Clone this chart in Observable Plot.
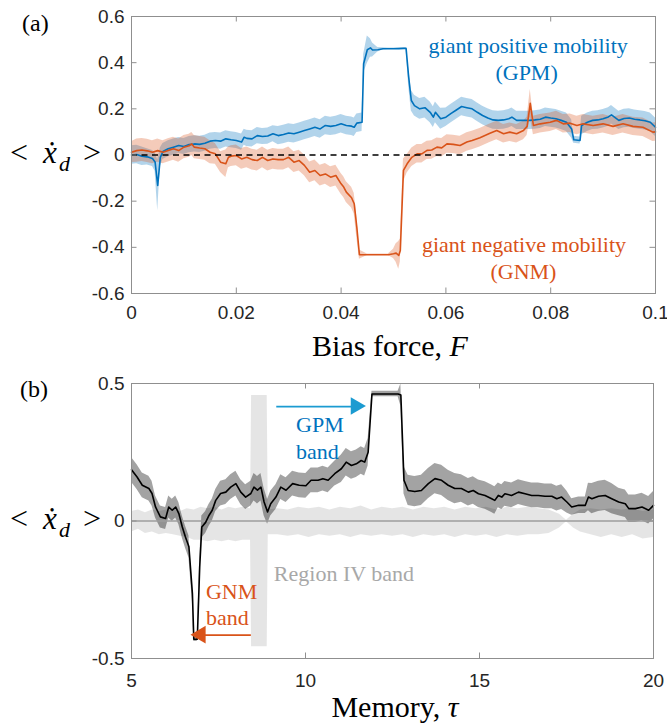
<!DOCTYPE html>
<html><head><meta charset="utf-8">
<script src="https://cdn.jsdelivr.net/npm/d3@7"></script>
<script src="https://cdn.jsdelivr.net/npm/@observablehq/plot@0.6"></script>
<style>
body{margin:0;background:#fff;} svg{display:block;}
</style>
</head><body><div id="a"></div><div id="b"></div>
<script>
// ---------- data ----------
const aXTicks = [0, 0.02, 0.04, 0.06, 0.08, 0.1];
const aYTicks = [-0.6, -0.4, -0.2, 0, 0.2, 0.4, 0.6];
const bXTicks = [5, 10, 15, 20];
const bYTicks = [-0.5, 0, 0.5];

// panel (a) blue: giant positive mobility curve
const gpmF = [0,0.001,0.002,0.003,0.004,0.0045,0.005,0.0055,0.006,0.007,0.008,0.009,0.010,0.011,0.012,0.013,0.014,0.015,0.016,0.017,0.018,0.019,0.020,0.021,0.0215,0.022,0.023,0.024,0.025,0.026,0.027,0.028,0.029,0.030,0.031,0.032,0.033,0.034,0.035,0.036,0.037,0.038,0.039,0.040,0.041,0.042,0.0425,0.043,0.044,0.0443,0.045,0.0456,0.046,0.047,0.048,0.049,0.050,0.051,0.052,0.0524,0.0529,0.0534,0.054,0.055,0.056,0.057,0.0576,0.058,0.059,0.060,0.061,0.062,0.063,0.064,0.065,0.066,0.067,0.068,0.069,0.070,0.071,0.072,0.0726,0.0735,0.075,0.076,0.077,0.078,0.079,0.080,0.081,0.082,0.083,0.084,0.0844,0.0856,0.0859,0.087,0.088,0.089,0.090,0.091,0.0916,0.093,0.094,0.095,0.096,0.097,0.098,0.099,0.100];
const gpmMean = [0,0.002,-0.005,-0.008,-0.015,-0.03,-0.132,-0.01,0.015,0.027,0.034,0.041,0.037,0.045,0.048,0.046,0.051,0.06,0.063,0.06,0.07,0.066,0.063,0.056,0.077,0.072,0.07,0.084,0.08,0.082,0.092,0.084,0.089,0.095,0.092,0.099,0.106,0.113,0.12,0.113,0.128,0.124,0.128,0.135,0.128,0.125,0.12,0.138,0.142,0.395,0.456,0.464,0.455,0.456,0.46,0.46,0.46,0.461,0.462,0.462,0.337,0.236,0.214,0.2,0.205,0.185,0.164,0.185,0.157,0.164,0.18,0.195,0.21,0.205,0.2,0.185,0.171,0.16,0.152,0.15,0.152,0.157,0.164,0.15,0.15,0.15,0.152,0.155,0.164,0.16,0.157,0.15,0.142,0.113,0.066,0.063,0.128,0.142,0.15,0.152,0.157,0.165,0.174,0.15,0.158,0.16,0.155,0.152,0.148,0.142,0.12];
const gpmErr = [0.04,0.04,0.04,0.035,0.035,0.04,0.11,0.04,0.035,0.035,0.035,0.035,0.035,0.035,0.035,0.035,0.035,0.035,0.035,0.035,0.035,0.035,0.035,0.035,0.035,0.035,0.035,0.035,0.035,0.035,0.035,0.04,0.04,0.04,0.04,0.04,0.04,0.04,0.04,0.04,0.04,0.04,0.04,0.04,0.04,0.04,0.04,0.04,0.04,0.04,0.06,0.04,0.03,0.01,0.005,0.003,0.003,0.003,0.003,0.003,0.04,0.045,0.045,0.045,0.045,0.045,0.045,0.045,0.045,0.04,0.04,0.04,0.04,0.04,0.04,0.04,0.04,0.04,0.04,0.04,0.04,0.04,0.04,0.04,0.04,0.04,0.04,0.04,0.04,0.04,0.04,0.04,0.04,0.04,0.015,0.015,0.04,0.04,0.04,0.04,0.04,0.04,0.04,0.04,0.04,0.04,0.04,0.04,0.04,0.04,0.04];

// panel (a) orange: giant negative mobility curve
const gnmF = [0,0.001,0.002,0.003,0.004,0.005,0.006,0.007,0.008,0.009,0.010,0.011,0.0115,0.012,0.013,0.014,0.015,0.016,0.017,0.018,0.0185,0.019,0.020,0.021,0.022,0.023,0.024,0.025,0.026,0.027,0.028,0.029,0.030,0.031,0.032,0.033,0.034,0.035,0.036,0.037,0.038,0.039,0.040,0.0405,0.041,0.042,0.0425,0.043,0.0435,0.045,0.047,0.049,0.050,0.0505,0.051,0.0513,0.0519,0.0526,0.0535,0.0545,0.0554,0.0564,0.0573,0.0583,0.0592,0.0602,0.0614,0.0627,0.064,0.065,0.0665,0.0684,0.0697,0.071,0.0722,0.0735,0.0748,0.0755,0.0761,0.0767,0.078,0.0799,0.0811,0.0824,0.0837,0.085,0.0862,0.0881,0.090,0.0919,0.0938,0.0957,0.0976,0.0995,0.100];
const gnmMean = [0.012,0.019,0.022,0.018,0.012,0.019,0.012,0.02,0.027,0.019,0.034,0.04,0.048,0.034,0.03,0.027,0.012,0.005,-0.031,-0.038,-0.01,-0.005,-0.002,-0.017,-0.01,-0.02,-0.024,-0.01,-0.024,-0.017,-0.02,-0.02,-0.01,-0.031,-0.024,-0.045,-0.075,-0.067,-0.089,-0.082,-0.096,-0.089,-0.125,-0.139,-0.161,-0.185,-0.211,-0.313,-0.432,-0.432,-0.432,-0.432,-0.428,-0.425,-0.435,-0.414,-0.067,-0.038,-0.01,0.005,0.005,0.02,0.022,0.034,0.031,0.048,0.046,0.041,0.056,0.063,0.075,0.094,0.106,0.092,0.099,0.092,0.106,0.124,0.224,0.128,0.135,0.142,0.15,0.135,0.138,0.128,0.135,0.128,0.135,0.124,0.135,0.124,0.12,0.099,0.1];
const gnmErr = [0.045,0.05,0.05,0.05,0.05,0.05,0.05,0.05,0.05,0.05,0.05,0.05,0.05,0.05,0.05,0.05,0.05,0.045,0.045,0.06,0.045,0.045,0.045,0.045,0.045,0.045,0.045,0.045,0.045,0.045,0.045,0.045,0.045,0.045,0.045,0.045,0.045,0.045,0.045,0.045,0.045,0.045,0.045,0.045,0.045,0.045,0.045,0.045,0.02,0.003,0.003,0.003,0.02,0.04,0.06,0.05,0.05,0.04,0.04,0.04,0.04,0.04,0.04,0.04,0.04,0.04,0.04,0.04,0.04,0.04,0.04,0.04,0.04,0.04,0.04,0.04,0.04,0.04,0.06,0.04,0.04,0.04,0.04,0.04,0.04,0.04,0.04,0.04,0.04,0.04,0.04,0.04,0.04,0.04,0.04];

// panel (b) black curve vs memory
const memTau = [5.0,5.16,5.31,5.5,5.59,5.69,5.83,5.98,6.07,6.17,6.27,6.36,6.46,6.55,6.65,6.75,6.79,6.89,6.96,7.02,7.13,7.23,7.32,7.42,7.56,7.71,7.85,8.0,8.14,8.28,8.43,8.52,8.62,8.72,8.81,8.91,9.0,9.15,9.29,9.44,9.63,9.82,10.01,10.16,10.36,10.5,10.65,10.84,11.03,11.17,11.32,11.46,11.6,11.7,11.8,11.91,12.66,12.74,12.83,12.95,13.14,13.33,13.53,13.72,13.91,14.1,14.29,14.48,14.68,14.82,14.97,15.16,15.35,15.44,15.54,15.64,15.73,15.92,16.12,16.31,16.5,16.69,16.88,17.08,17.22,17.36,17.51,17.65,17.85,18.04,18.13,18.23,18.42,18.61,18.8,19.0,19.19,19.29,19.48,19.67,19.86,20.0];
const memMean = [0.186,0.16,0.13,0.118,0.1,0.051,0.015,0.009,0.051,0.039,0.051,0.027,-0.022,-0.058,-0.094,-0.263,-0.43,-0.43,-0.167,-0.022,-0.005,0.021,0.039,0.075,0.1,0.105,0.123,0.136,0.105,0.087,0.1,0.123,0.112,0.123,0.069,0.033,0.063,0.087,0.123,0.112,0.136,0.13,0.128,0.148,0.148,0.154,0.148,0.172,0.19,0.214,0.202,0.208,0.22,0.214,0.25,0.462,0.462,0.458,0.148,0.111,0.107,0.111,0.136,0.154,0.148,0.13,0.118,0.118,0.105,0.111,0.099,0.093,0.081,0.075,0.093,0.087,0.099,0.093,0.105,0.099,0.093,0.093,0.09,0.09,0.081,0.087,0.069,0.051,0.057,0.057,0.087,0.081,0.09,0.093,0.081,0.069,0.063,0.045,0.045,0.051,0.039,0.057];
const memErr = [0.045,0.045,0.045,0.045,0.045,0.04,0.04,0.04,0.04,0.04,0.04,0.04,0.04,0.04,0.04,0.03,0.008,0.008,0.03,0.04,0.04,0.04,0.04,0.04,0.045,0.045,0.045,0.045,0.045,0.045,0.045,0.05,0.05,0.05,0.05,0.045,0.045,0.045,0.045,0.045,0.045,0.045,0.045,0.045,0.045,0.045,0.045,0.045,0.05,0.05,0.05,0.05,0.05,0.05,0.05,0.01,0.01,0.04,0.05,0.055,0.055,0.055,0.055,0.055,0.055,0.055,0.055,0.05,0.05,0.05,0.05,0.05,0.05,0.05,0.045,0.045,0.045,0.045,0.045,0.045,0.045,0.045,0.045,0.045,0.045,0.045,0.04,0.03,0.03,0.03,0.05,0.055,0.055,0.055,0.055,0.05,0.05,0.05,0.05,0.05,0.05,0.05];

// panel (b) light "Region IV" band around zero
const regTau = [5.0,5.2,5.4,5.6,5.8,6.0,6.2,6.4,6.6,6.8,7.0,7.2,7.4,7.6,7.8,8.0,8.2,8.42,8.45,8.9,8.93,9.2,9.5,9.8,10.1,10.4,10.7,11.0,11.3,11.6,11.9,12.2,12.5,12.8,13.1,13.4,13.7,14.0,14.3,14.6,14.9,15.2,15.5,15.8,16.1,16.4,16.7,17.0,17.3,17.5,17.7,17.9,18.2,18.5,18.8,19.1,19.4,19.7,20.0];
const regHi = [0.035,0.04,0.03,0.04,0.035,0.04,0.045,0.035,0.045,0.04,0.05,0.045,0.05,0.04,0.05,0.045,0.05,0.045,0.456,0.456,0.04,0.045,0.04,0.05,0.045,0.05,0.04,0.05,0.045,0.055,0.04,0.05,0.045,0.05,0.04,0.05,0.045,0.05,0.04,0.05,0.045,0.05,0.04,0.05,0.045,0.05,0.045,0.04,0.025,0.003,0.025,0.04,0.045,0.04,0.045,0.04,0.045,0.035,0.04];
const regLo = [-0.04,-0.03,-0.045,-0.04,-0.05,-0.045,-0.05,-0.055,-0.06,-0.07,-0.07,-0.075,-0.07,-0.075,-0.07,-0.075,-0.07,-0.07,-0.457,-0.457,-0.05,-0.05,-0.055,-0.05,-0.06,-0.05,-0.055,-0.05,-0.06,-0.05,-0.055,-0.05,-0.055,-0.05,-0.06,-0.05,-0.055,-0.05,-0.06,-0.05,-0.055,-0.05,-0.06,-0.05,-0.055,-0.05,-0.05,-0.045,-0.025,-0.003,-0.025,-0.04,-0.05,-0.06,-0.05,-0.06,-0.05,-0.065,-0.06];

// annotations
const annAText = ["giant positive mobility", "(GPM)", "giant negative mobility", "(GNM)"];
const annAX = [0.0757, 0.0754, 0.0749, 0.0748];
const annAY = [0.441, 0.323, -0.421, -0.536];
const annASeries = ["GPM", "GPM", "GNM", "GNM"];

const annBText = ["GPM", "band", "GNM", "band", "Region IV band"];
const annBX = [9.73, 9.73, 7.14, 7.14, 9.09];
const annBY = [0.323, 0.226, -0.282, -0.378, -0.218];
const annBKind = ["GPM", "GPM", "GNM", "GNM", "IV"];

const arrowFrom = [9.16, 8.43];
const arrowTo = [11.46, 7.0];
const arrowY = [0.416, -0.415];
const arrowKind = ["GPM", "GNM"];

// ---------- styling ----------
const BLUE = "#0072BD", ORANGE = "#D95319", ARROWBLUE = "#1B9BD1", GREYTXT = "#a8a8a8";
const FRAME = "#8f8f8f";
const SERIF = "'Liberation Serif','DejaVu Serif',serif";
const SANS = "'Liberation Sans', Arial, sans-serif";
const fmt = d => String(d);
const rows = (xs, ys, es) => xs.map((x, i) => ({x, y: ys[i], lo: ys[i] - es[i], hi: ys[i] + es[i]}));

const gpm = rows(gpmF, gpmMean, gpmErr);
const gnm = rows(gnmF, gnmMean, gnmErr);
const mem = rows(memTau, memMean, memErr);
const reg = regTau.map((x, i) => ({x, lo: regLo[i], hi: regHi[i]}));
const annA = annAText.map((t, i) => ({t, x: annAX[i], y: annAY[i], c: annASeries[i] === "GPM" ? BLUE : ORANGE}));
const annB = annBText.map((t, i) => ({t, x: annBX[i], y: annBY[i], c: annBKind[i] === "GPM" ? BLUE : annBKind[i] === "GNM" ? ORANGE : GREYTXT}));
const arrows = arrowFrom.map((x1, i) => ({x1, x2: arrowTo[i], y: arrowY[i], c: arrowKind[i] === "GPM" ? ARROWBLUE : ORANGE, rot: arrowTo[i] > x1 ? 90 : -90, back: arrowTo[i] > x1 ? -9 : 9}));

const TICK = 5.5;
function innerTicks(plotW, plotH, xt, yt) {
  return [
    Plot.tickX(xt, {x: d => d, stroke: FRAME, insetTop: plotH - TICK}),
    Plot.tickX(xt, {x: d => d, stroke: FRAME, insetBottom: plotH - TICK}),
    Plot.tickY(yt, {y: d => d, stroke: FRAME, insetLeft: plotW - TICK}),
    Plot.tickY(yt, {y: d => d, stroke: FRAME, insetRight: plotW - TICK})
  ];
}

// ---------- panel (a) ----------
const A = {w: 667, h: 362, mt: 16, mb: 69, ml: 131, mr: 12};
const chartA = Plot.plot({
  width: A.w, height: A.h,
  marginTop: A.mt, marginBottom: A.mb, marginLeft: A.ml, marginRight: A.mr,
  style: {fontFamily: SANS, fontSize: "19px", color: "#262626", background: "white"},
  x: {domain: [0, 0.1], ticks: aXTicks, tickFormat: fmt, tickSize: 0, tickPadding: 12, label: null},
  y: {domain: [-0.6, 0.6], ticks: aYTicks, tickFormat: fmt, tickSize: 0, tickPadding: 7, label: null},
  marks: [
    Plot.areaY(gpm, {x: "x", y1: "lo", y2: "hi", fill: BLUE, fillOpacity: 0.3}),
    Plot.areaY(gnm, {x: "x", y1: "lo", y2: "hi", fill: ORANGE, fillOpacity: 0.3}),
    Plot.line(gpm, {x: "x", y: "y", stroke: BLUE, strokeWidth: 1.6}),
    Plot.line(gnm, {x: "x", y: "y", stroke: ORANGE, strokeWidth: 1.6}),
    Plot.ruleY([0], {stroke: "black", strokeWidth: 1.6, strokeDasharray: "6,4.5"}),
    Plot.frame({stroke: FRAME}),
    ...innerTicks(A.w - A.ml - A.mr, A.h - A.mt - A.mb, aXTicks, aYTicks),
    Plot.text(annA, {x: "x", y: "y", text: "t", fill: "c", fontFamily: SERIF, fontSize: 22, lineAnchor: "bottom", textAnchor: "middle"})
  ]
});
document.getElementById("a").appendChild(chartA);

// ---------- panel (b) ----------
const B = {w: 667, h: 361, mt: 21, mb: 65, ml: 131, mr: 14};
const chartB = Plot.plot({
  width: B.w, height: B.h,
  marginTop: B.mt, marginBottom: B.mb, marginLeft: B.ml, marginRight: B.mr,
  style: {fontFamily: SANS, fontSize: "19px", color: "#262626", background: "white"},
  x: {domain: [5, 20], ticks: bXTicks, tickFormat: fmt, tickSize: 0, tickPadding: 15, label: null},
  y: {domain: [-0.5, 0.5], ticks: bYTicks, tickFormat: fmt, tickSize: 0, tickPadding: 7, label: null},
  marks: [
    Plot.areaY(reg, {x: "x", y1: "lo", y2: "hi", fill: "black", fillOpacity: 0.1}),
    Plot.areaY(mem, {x: "x", y1: "lo", y2: "hi", fill: "black", fillOpacity: 0.36}),
    Plot.ruleY([0], {stroke: "#9c9c9c", strokeWidth: 1.6}),
    Plot.line(mem, {x: "x", y: "y", stroke: "black", strokeWidth: 1.6}),
    Plot.link(arrows, {x1: "x1", x2: "x2", y1: "y", y2: "y", stroke: "c", strokeWidth: 1.8}),
    Plot.dot(arrows, {x: "x2", y: "y", symbol: "triangle", r: 6.5, fill: "c", stroke: "none", rotate: "rot", dx: "back"}),
    Plot.text(annB, {x: "x", y: "y", text: "t", fill: "c", fontFamily: SERIF, fontSize: 22, lineAnchor: "bottom", textAnchor: "start"}),
    Plot.frame({stroke: FRAME}),
    ...innerTicks(B.w - B.ml - B.mr, B.h - B.mt - B.mb, bXTicks, bYTicks)
  ]
});
document.getElementById("b").appendChild(chartB);

// tick label font: force size/family on the axis texts
for (const svg of [chartA, chartB]) {
  d3.select(svg).selectAll('g[aria-label*="axis"] text')
    .style("font-size", "19px").style("font-family", SANS).style("fill", "#262626");
}

// ---------- labels (real text) ----------
function yLabel(svg, base) {
  const t = d3.select(svg).append("text").attr("font-family", SERIF).attr("fill", "#000")
    .attr("text-anchor", "start").attr("y", base);
  t.append("tspan").attr("x", 10).attr("font-size", 32).text("<");
  t.append("tspan").attr("x", 43).attr("font-size", 31).attr("font-style", "italic").text("ẋ");
  t.append("tspan").attr("x", 59).attr("dy", 8).attr("font-size", 22).attr("font-style", "italic").text("d");
  t.append("tspan").attr("x", 83).attr("dy", -8).attr("font-size", 32).text(">");
}
function xLabel(svg, cx, base, main, sym) {
  const t = d3.select(svg).append("text").attr("font-family", SERIF).attr("font-size", 30).attr("fill", "#000")
    .attr("x", cx).attr("y", base).attr("text-anchor", "middle");
  t.append("tspan").text(main);
  t.append("tspan").attr("font-style", "italic").text(sym);
}
function panelTag(svg, x, base, s) {
  d3.select(svg).append("text").attr("font-family", SERIF).attr("font-size", 24).attr("fill", "#000")
    .attr("text-anchor", "start").attr("x", x).attr("y", base).text(s);
}
yLabel(chartA, 163);
xLabel(chartA, 390, 356, "Bias force, ", "F");
panelTag(chartA, 22, 31, "(a)");
yLabel(chartB, 167);
xLabel(chartB, 395, 355, "Memory, ", "τ");
panelTag(chartB, 20, 35, "(b)");
</script></body></html>
